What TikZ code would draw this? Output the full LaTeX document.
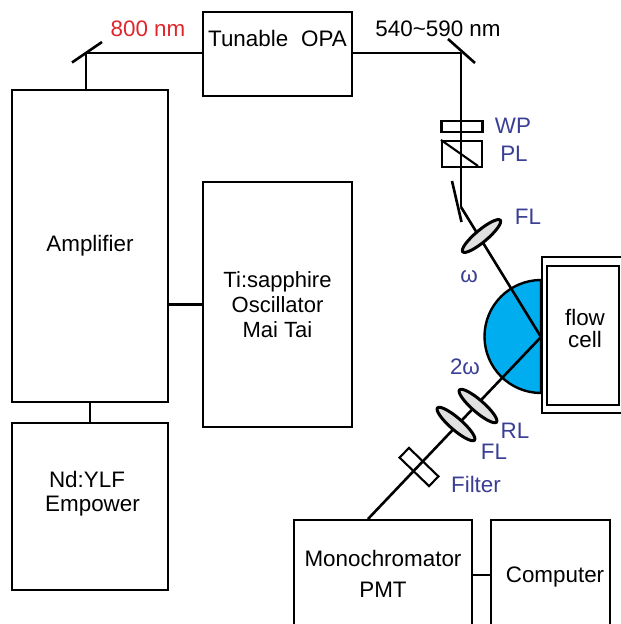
\documentclass[tikz,border=0pt]{standalone}
\usepackage{fontspec}
\setmainfont{Liberation Sans}
\definecolor{lab}{HTML}{3A3F94}
\definecolor{redlab}{HTML}{E0262C}
\definecolor{cyanfill}{HTML}{00AEEF}
\usetikzlibrary{shapes.geometric}
\tikzset{
 box/.style={draw=black,line width=2.6pt,fill=white,inner sep=0pt,align=center,font=\fontsize{22.4}{25}\selectfont},
 beam/.style={draw=black,line width=2.6pt},
 thinbox/.style={draw=black,line width=2.1pt,fill=none,inner sep=0pt},
 lens/.style={ellipse,draw=black,line width=3pt,fill=black!12,minimum width=49pt,minimum height=12pt,inner sep=0pt},
 txt/.style={inner sep=0pt,align=center,font=\fontsize{22.4}{25}\selectfont},
 bluetxt/.style={txt,text=lab},
}
\begin{document}
\begin{tikzpicture}[x=1pt,y=-1pt]
\useasboundingbox (0,0) rectangle (621,624);
\clip (0,0) rectangle (621,624);
% boxes
\node[box,minimum width=149pt,minimum height=84pt] (opa) at (277.5,54) {};
\node[txt] (opat) at (277.5,38) {Tunable\hspace{0.3em} OPA};
\node[box,minimum width=156pt,minimum height=312pt] (amp) at (90,246) {Amplifier};
\node[box,minimum width=149pt,minimum height=245pt,font=\fontsize{22}{25}\selectfont] (ti) at (277.5,304.5) {Ti:sapphire\\Oscillator\\Mai Tai};
\node[box,minimum width=156pt,minimum height=167pt] (nd) at (90,506.5) {};
\node[txt] (ndt1) at (87,479) {Nd:YLF};
\node[txt] (ndt2) at (92.5,506) {Empower};
\node[box,minimum width=178pt,minimum height=130pt] (mono) at (383,585) {};
\node[txt] (monot1) at (383,558) {Monochromator};
\node[txt] (monot2) at (383,590) {PMT};
\node[box,minimum width=119pt,minimum height=130pt] (comp) at (550.5,585) {};
\node[txt] (compt) at (555,577) {Computer};
% coordinates
\coordinate (m1) at (86,53);
\coordinate (m2) at (461,53);
\coordinate (m3) at (461,207);
\coordinate (focus) at (541,337);
\coordinate (monoin) at (368,519);
% hemisphere and flow cell
\draw[black,line width=2.4pt,fill=cyanfill] (541,280) arc[start angle=90,end angle=270,radius=56.5pt] -- cycle;
\node[draw=black,line width=2.4pt,fill=white,minimum width=86pt,minimum height=156pt,inner sep=0pt] (cellout) at (585,335) {};
\node[box,minimum width=72pt,minimum height=139pt] (cell) at (583,335.5) {};
\node[txt,font=\fontsize{22.4}{22}\selectfont] (cellt) at (585,328) {flow\\cell};
% connectors
\draw[beam] (m1) -- (opa.west |- m1);
\draw[beam] (m1) -- (m1 |- amp.north);
\draw[beam] (opa.east |- m2) -- (m2);
\draw[beam] (m2) -- (m3);
\draw[beam] (m3) -- (focus);
\draw[beam] (focus) -- (monoin);
\draw[beam] (ti.west) -- (ti.west -| amp.east);
\draw[beam] (nd.north) -- (amp.south);
\draw[beam] (mono.east |- 0,575) -- (comp.west |- 0,575);
% mirrors
\coordinate (m1a) at (72,62.5); \coordinate (m1b) at (102,42);
\coordinate (m2a) at (448,39); \coordinate (m2b) at (475,63);
\coordinate (m3a) at (452,181); \coordinate (m3b) at (461.5,222);
\draw[beam] (m1a) -- (m1b);
\draw[beam] (m2a) -- (m2b);
\draw[beam] (m3a) -- (m3b);
% WP, PL
\node[thinbox,minimum width=41pt,minimum height=11pt] (wp) at (462,126.5) {};
\node[thinbox,minimum width=40pt,minimum height=26pt] (pl) at (462,154) {};
\draw[line width=2.1pt] (pl.north west) -- (478,166);
% lenses
\node[lens,rotate=40] (fl1) at (481.5,236) {};
\node[lens,rotate=-41] (rl) at (478,406) {};
\node[lens,rotate=-41] (fl2) at (456,424) {};
\node[thinbox,rotate=-44,minimum width=41pt,minimum height=13.5pt] (filter) at (419,467) {};
% labels
\node[txt,text=redlab] (l800) at (148,29) {800 nm};
\node[txt] (l540) at (438,29) {540\textasciitilde590 nm};
\node[bluetxt] (lwp) at (513,126) {WP};
\node[bluetxt] (lpl) at (514,154) {PL};
\node[bluetxt] (lfl1) at (528,217) {FL};
\node[bluetxt] (lw) at (469,277) {ω};
\node[bluetxt] (l2w) at (465,367) {2ω};
\node[bluetxt] (lrl) at (515,431) {RL};
\node[bluetxt] (lfl2) at (494,452) {FL};
\node[bluetxt] (lfil) at (476,484) {Filter};
\end{tikzpicture}
\end{document}
